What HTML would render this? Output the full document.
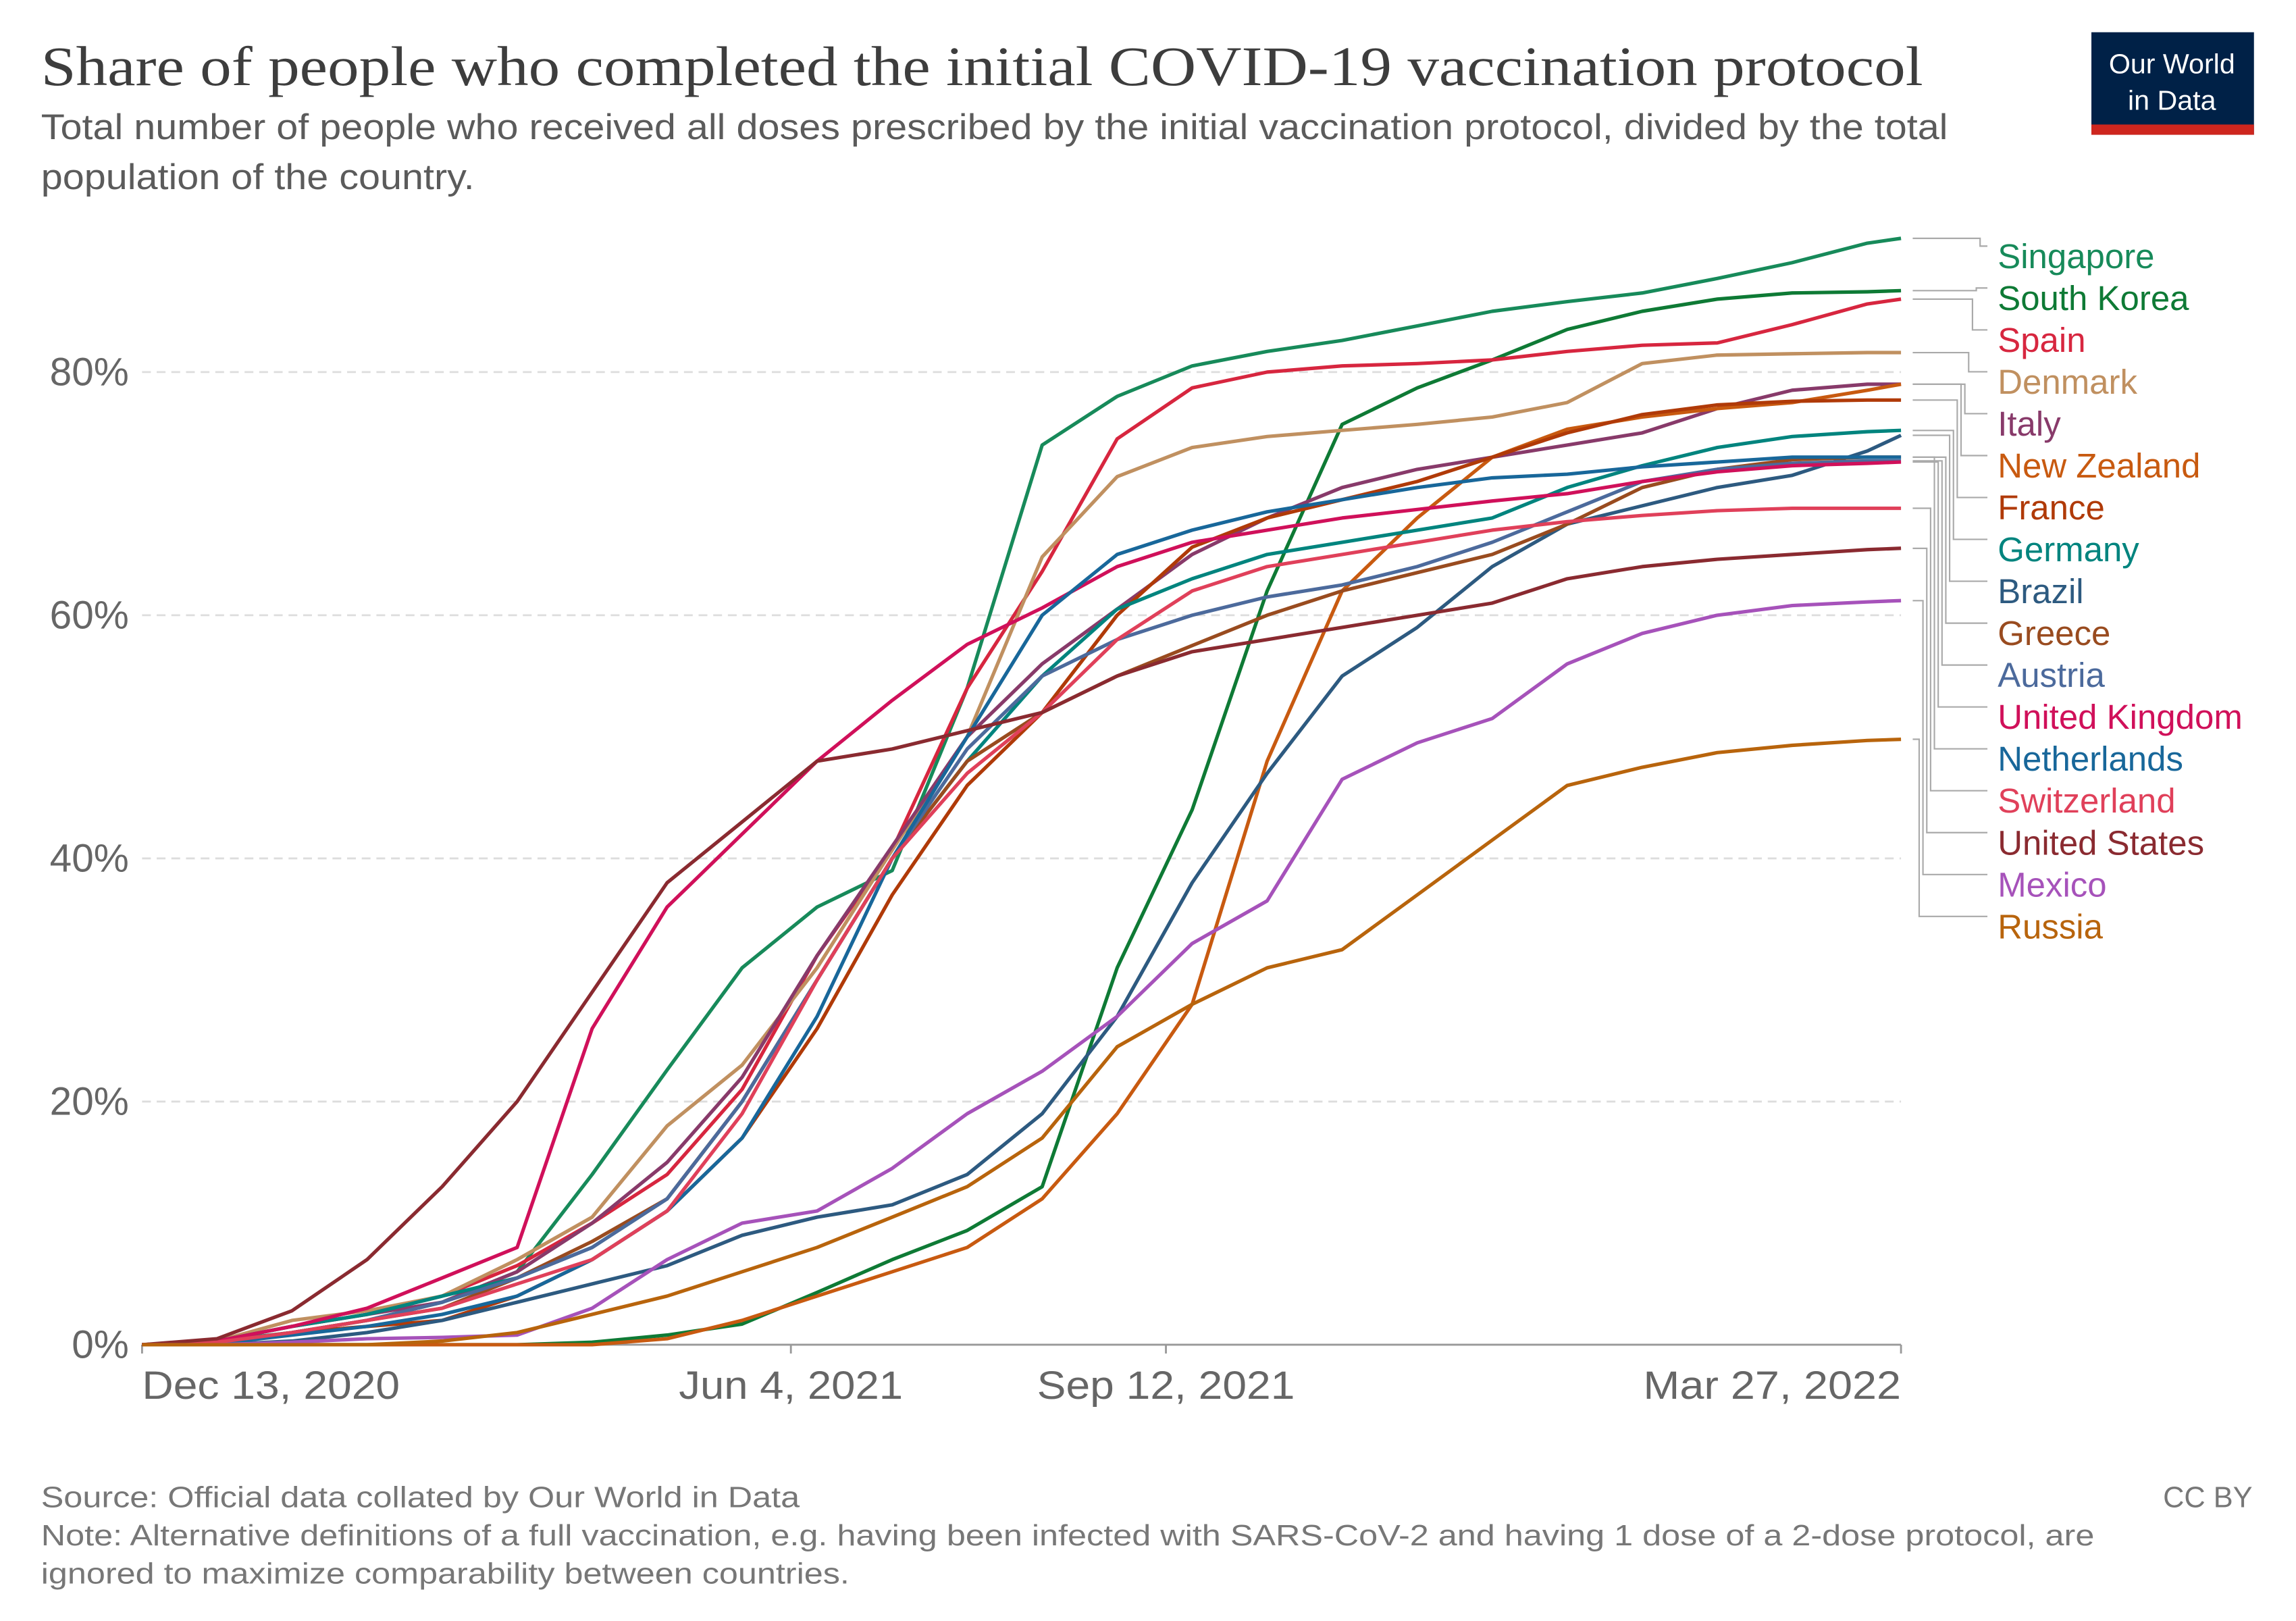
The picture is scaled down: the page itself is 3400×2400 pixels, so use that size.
<!DOCTYPE html>
<html><head><meta charset="utf-8"><style>
html,body{margin:0;padding:0;background:#fff;}
svg{display:block;}
text{font-family:"Liberation Sans",sans-serif;}
</style></head><body>
<svg id="chart" width="3400" height="2400" viewBox="0 0 1567.7 1106.6" xmlns="http://www.w3.org/2000/svg">
<rect width="1567.7" height="1106.6" fill="#fff"/>
<text x="28" y="58" style="font-family:'Liberation Serif',serif" font-size="38" fill="#3d3d3d" textLength="1285" lengthAdjust="spacingAndGlyphs">Share of people who completed the initial COVID-19 vaccination protocol</text>
<text x="28" y="95" font-size="24.5" fill="#5b5b5b" textLength="1302" lengthAdjust="spacingAndGlyphs">Total number of people who received all doses prescribed by the initial vaccination protocol, divided by the total</text>
<text x="28" y="129" font-size="24.5" fill="#5b5b5b" textLength="296" lengthAdjust="spacingAndGlyphs">population of the country.</text>
<g>
<rect x="1428" y="22" width="111" height="70" fill="#002147"/>
<rect x="1428" y="85" width="111" height="7" fill="#ce261e"/>
<text x="1483" y="50" font-size="19" fill="#fff" text-anchor="middle">Our World</text>
<text x="1483" y="75" font-size="19" fill="#fff" text-anchor="middle">in Data</text>
</g>
<g id="grid"></g>
<g id="axes"></g>
<g id="series"></g>
<g id="labels"></g>
<text x="28" y="1029" font-size="20" fill="#777" textLength="518" lengthAdjust="spacingAndGlyphs">Source: Official data collated by Our World in Data</text>
<text x="1538" y="1029" font-size="20" fill="#777" text-anchor="end">CC BY</text>
<text x="28" y="1055" font-size="20" fill="#777" textLength="1402" lengthAdjust="spacingAndGlyphs">Note: Alternative definitions of a full vaccination, e.g. having been infected with SARS-CoV-2 and having 1 dose of a 2-dose protocol, are</text>
<text x="28" y="1081" font-size="20" fill="#777" textLength="552" lengthAdjust="spacingAndGlyphs">ignored to maximize comparability between countries.</text>
</svg>
<script>
const days = [0,20,40,60,80,100,120,140,160,180,200,220,240,260,280,300,320,340,360,380,400,420,440,460,469];
const countries = ["Singapore","South Korea","Spain","Denmark","Italy","New Zealand","France","Germany","Brazil","Greece","Austria","United Kingdom","Netherlands","Switzerland","United States","Mexico","Russia"];
const colors = ["#178a5a","#0e7a35","#d7263f","#c09060","#883a6a","#c85a10","#b03a08","#00847e","#2d5a80","#994b1f","#4c6a9c","#d0105a","#18679a","#e0405a","#8a2a30","#a652ba","#b8640c"];
const vSingapore = [0,0.3,1,2,3.5,6,14,22.6,31,36,39,54,74,78,80.5,81.7,82.6,83.8,85,85.8,86.5,87.7,89,90.6,91];
const vSouthKorea = [0,0,0,0,0,0,0.2,0.8,1.7,4.3,7,9.4,13,31,44,62,75.7,78.7,81,83.5,85,86,86.5,86.6,86.7];
const vSpain = [0,0.3,1.5,2.5,4,6.5,10,14,21,32,40.7,54,63.6,74.5,78.7,80,80.5,80.7,81,81.7,82.2,82.4,83.9,85.6,86];
const vDenmark = [0,0.3,2,2.8,4,7,10.5,18,23,31,40.7,50,64.8,71.4,73.8,74.7,75.2,75.7,76.3,77.5,80.7,81.4,81.5,81.6,81.6];
const vItaly = [0,0.3,1.5,2.5,3.5,6,10,15,22,32,41,50,56,60.5,65,68,70.5,72,73,74,75,77,78.5,79,79];
const vNewZealand = [0,0,0,0,0,0,0,0.5,2,4,6,8,12,19,28,48,62,68,73,75.3,76.3,77,77.5,78.5,79];
const vFrance = [0,0.2,1,1.5,2,4,7,11,17,26,37,46,52,60,65.6,68,69.5,71,73,75,76.5,77.3,77.6,77.7,77.7];
const vGermany = [0,0.3,1.5,2.5,4,5.5,8,12,20,30,40,48,55,60.5,63,65,66,67,68,70.5,72.3,73.8,74.7,75.1,75.2];
const vBrazil = [0,0,0.3,1,2,3.5,5,6.5,9,10.5,11.5,14,19,27,38,47,55,59,64,67.5,69,70.5,71.5,73.5,74.8];
const vGreece = [0,0.2,1,2,3,5.5,8.5,12,20,30,40,48,52,55,57.5,60,62,63.5,65,67.5,70.5,72,72.8,73,73];
const vAustria = [0,0.2,1,2,3.5,5.5,8,12,20,30,40,49,55,58,60,61.5,62.5,64,66,68.5,71,72,72.5,72.7,72.7];
const vUnitedKingdom = [0,0.3,1.5,3,5.5,8,26,36,42,48,53,57.6,60.6,64,66,67,68,68.7,69.4,70,71,71.8,72.3,72.5,72.6];
const vNetherlands = [0,0.1,0.8,1.5,2.5,4,7,11,17,27,40,50,60,65,67,68.5,69.5,70.5,71.3,71.6,72.2,72.6,73,73,73];
const vSwitzerland = [0,0.2,1,2,3,5,7,11,19,30,40,47,52,58,62,64,65,66,67,67.7,68.2,68.6,68.8,68.8,68.8];
const vUnitedStates = [0,0.5,2.8,7,13,20,29,38,43,48,49,50.5,52,55,57,58,59,60,61,63,64,64.6,65,65.4,65.5];
const vMexico = [0,0,0.2,0.5,0.6,0.8,3,7,10,11,14.5,19,22.5,27,33,36.5,46.5,49.5,51.5,56,58.5,60,60.8,61.1,61.2];
const vRussia = [0,0,0,0,0.3,1,2.5,4,6,8,10.5,13,17,24.5,28,31,32.5,37,41.5,46,47.5,48.7,49.3,49.7,49.8];
const seriesValues = [vSingapore,vSouthKorea,vSpain,vDenmark,vItaly,vNewZealand,vFrance,vGermany,vBrazil,vGreece,vAustria,vUnitedKingdom,vNetherlands,vSwitzerland,vUnitedStates,vMexico,vRussia];
const yTicks = [0,20,40,60,80];
const yTickLabels = ["0%","20%","40%","60%","80%"];
const xTicks = [0,173,273,469];
const xTickLabels = ["Dec 13, 2020","Jun 4, 2021","Sep 12, 2021","Mar 27, 2022"];

const NS="http://www.w3.org/2000/svg";
const X0=97, X1=1298, DMAX=469, Y0=918, PXPER=8.3;
function xs(d){return X0+(X1-X0)*d/DMAX;}
function ys(v){return Y0-v*PXPER;}
function mk(tag,attrs,parent){const e=document.createElementNS(NS,tag);for(const k in attrs)e.setAttribute(k,attrs[k]);parent.appendChild(e);return e;}
const grid=document.getElementById('grid'), axes=document.getElementById('axes'), ser=document.getElementById('series'), lab=document.getElementById('labels');
yTicks.forEach((t,i)=>{
  if(t>0){const l=mk('line',{x1:X0,x2:X1,y1:ys(t),y2:ys(t),stroke:'#ddd','stroke-dasharray':'6,4','stroke-width':1.3},grid);
  
  }
  const tx=mk('text',{x:88,y:ys(t)+9,'font-size':27,fill:'#666','text-anchor':'end'},axes);
  tx.textContent=yTickLabels[i];
  
  
});
const ax=mk('line',{x1:X0,x2:X1,y1:Y0,y2:Y0,stroke:'#999','stroke-width':1.3},axes);


xTicks.forEach((d,i)=>{
  const tk=mk('line',{x1:xs(d),x2:xs(d),y1:Y0,y2:Y0+6,stroke:'#999','stroke-width':1.3},axes);
  
  
  const anchor=i===0?'start':(i===xTicks.length-1?'end':'middle');
  const tx=mk('text',{x:xs(d),y:955,'font-size':27,fill:'#666','text-anchor':anchor,textLength:(i===1?153:176),lengthAdjust:'spacingAndGlyphs'},axes);
  tx.textContent=xTickLabels[i];
  
  
});
countries.forEach((c,i)=>{
  const vals=seriesValues[i];
  let d='';
  vals.forEach((v,j)=>{d+=(j?'L':'M')+xs(days[j]).toFixed(1)+','+ys(v).toFixed(1);});
  const p=mk('path',{d:d,fill:'none',stroke:colors[i],'stroke-width':2.4,'stroke-linejoin':'round'},ser);
  
  
  const ly=175+i*28.6;
  const ey=ys(vals[vals.length-1]);
  const xk=1352-i*2.6;
  const pl=mk('polyline',{points:`1306,${ey} ${xk},${ey} ${xk},${ly-7} 1357,${ly-7}`,fill:'none',stroke:'#aaa','stroke-width':1},lab);
  
  
  const t=mk('text',{x:1364,y:ly+8,'font-size':23.5,fill:colors[i]},lab);
  t.textContent=c;
  
  
});
</script>
</body></html>
